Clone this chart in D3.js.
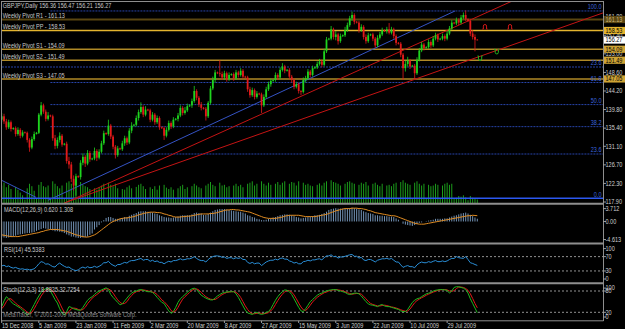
<!DOCTYPE html>
<html><head><meta charset="utf-8">
<script src="https://cdn.jsdelivr.net/npm/d3@7/dist/d3.min.js"></script>
<style>html,body{margin:0;padding:0;background:#000;overflow:hidden}svg{display:block}</style>
</head><body>
<svg id="c" width="625" height="329"></svg>
<script>
// ---------------- DATA ----------------
const symbolTitle = "GBPJPY,Daily  156.36 156.47 156.21 156.27";
const dateLabels = ["15 Dec 2008","5 Jan 2009","23 Jan 2009","11 Feb 2009","2 Mar 2009","20 Mar 2009","8 Apr 2009","27 Apr 2009","15 May 2009","3 Jun 2009","22 Jun 2009","10 Jul 2009","29 Jul 2009"];
const dateTickBars = [0,16,32,48,64,80,96,112,128,144,160,176,192];
const priceTicks = [117.90,122.30,126.70,131.10,135.40,139.80,144.20,148.60,153.00,157.40,161.80];

const opens = [
137.4,138.2,137.0,135.6,136.8,135.2,135.4,134.0,135.0,133.6,134.4,134.3,132.6,130.8,132.8,134.0,
134.3,138.6,140.8,139.3,137.6,138.4,138.2,133.0,131.2,132.6,133.6,131.5,131.7,127.6,126.8,123.4,
121.8,124.0,123.8,127.2,128.6,127.0,129.5,128.0,128.2,130.0,128.4,129.8,131.8,134.2,134.0,136.0,
133.4,131.0,129.0,130.6,130.4,131.8,133.0,132.0,134.8,136.0,136.2,137.8,139.2,140.4,138.6,139.8,
139.6,137.4,138.6,136.8,137.8,135.6,135.4,133.6,135.0,136.6,135.8,137.4,137.6,138.4,140.2,139.0,
139.6,140.6,140.8,141.8,144.2,142.6,141.0,140.2,140.0,138.2,141.4,144.8,146.8,148.6,148.4,148.2,
147.4,148.4,147.0,148.0,148.2,147.2,148.6,148.0,149.0,147.6,147.4,144.6,143.2,144.4,142.8,143.6,
143.4,140.8,142.8,144.6,145.8,146.6,146.8,148.0,147.4,149.2,150.0,149.0,149.2,147.6,146.8,145.2,
145.8,144.2,144.0,146.8,147.2,148.8,148.0,149.6,149.8,150.6,151.2,150.4,153.6,156.4,156.6,158.8,
157.0,157.6,156.0,157.2,157.4,158.6,159.8,161.4,162.2,160.6,160.4,158.6,159.4,157.0,156.0,157.4,
157.6,156.6,155.0,156.8,157.6,158.6,158.4,158.8,158.0,158.8,157.2,155.6,155.4,152.8,149.6,150.6,
151.4,150.0,150.2,148.4,151.6,153.8,155.2,154.4,154.6,155.8,155.0,156.6,157.4,156.4,156.6,157.2,
156.6,157.8,159.0,160.4,160.2,161.0,160.4,161.6,162.2,161.2,160.8,157.8,157.0,156.36];
const highs = [
139.0,138.8,137.6,137.4,137.2,135.6,135.8,135.6,135.4,134.9,134.6,134.6,133.0,133.4,134.6,134.5,
139.0,141.6,141.2,139.8,139.2,138.6,138.6,133.8,133.2,134.4,134.0,131.9,132.2,128.6,127.4,124.2,
124.6,124.2,127.8,129.4,129.0,130.2,130.0,128.4,130.8,130.4,130.4,132.4,134.8,134.4,137.4,136.4,
133.8,131.4,131.2,130.8,132.4,133.6,133.4,135.4,136.8,136.4,138.4,139.8,141.5,140.8,140.6,140.0,
140.0,139.2,139.0,138.4,138.2,135.8,135.8,135.6,137.2,137.0,138.0,137.8,139.0,140.8,140.6,140.4,
141.2,141.0,142.4,145.4,144.6,143.0,141.6,140.4,140.4,141.8,145.4,147.6,149.2,148.8,151.5,148.8,
149.0,148.8,148.6,148.4,148.6,149.2,149.0,149.6,149.4,147.8,147.8,145.2,145.0,144.8,144.2,143.8,
143.8,143.4,145.2,146.4,147.2,147.0,148.6,148.4,149.8,150.8,150.4,149.4,149.6,148.0,147.2,146.4,
146.2,144.4,147.4,147.8,149.4,149.2,150.2,150.0,151.2,151.8,151.6,154.2,157.0,156.8,159.6,159.2,
158.4,158.0,157.8,157.6,159.4,160.4,162.0,163.0,162.6,160.8,160.8,160.0,159.8,157.6,158.0,157.8,
158.0,157.0,157.4,158.2,159.2,158.8,159.4,160.3,159.4,159.2,157.6,155.8,155.8,153.2,151.4,152.3,
151.8,150.4,150.6,152.2,154.4,155.8,155.6,154.8,156.4,156.2,157.2,158.0,157.8,156.8,157.8,157.6,
158.4,159.6,161.0,160.6,161.6,161.4,162.2,162.8,163.3,161.4,161.2,158.6,157.6,156.47];
const lows = [
136.8,136.4,135.0,135.2,134.6,135.0,133.4,133.6,133.0,133.2,134.1,132.0,129.8,130.4,132.4,133.9,
134.0,138.2,138.8,137.0,137.2,138.0,132.4,130.4,130.6,132.0,131.0,131.3,127.0,125.8,122.6,120.6,
119.4,123.6,123.2,126.6,126.2,126.6,127.4,127.8,127.8,127.6,128.0,129.4,131.4,133.8,133.6,132.8,
130.4,128.2,128.6,130.2,130.0,131.2,131.4,131.6,134.2,135.8,135.8,137.2,138.8,138.0,138.2,139.4,
136.8,137.0,136.2,136.4,135.0,135.2,132.6,133.2,134.6,135.2,135.4,137.2,137.0,138.0,138.4,138.6,
139.2,140.4,140.2,141.4,142.0,140.4,139.6,139.8,137.2,137.8,141.0,144.4,146.2,148.2,147.6,146.8,
146.8,146.4,146.6,147.8,146.6,146.8,147.4,147.6,147.0,147.2,144.0,142.6,142.8,142.2,142.4,143.2,
139.0,140.4,142.4,144.2,145.2,146.4,146.4,146.8,147.0,148.8,148.4,148.8,147.0,146.2,144.6,144.8,
143.6,143.2,143.6,146.2,146.8,147.4,147.6,149.4,149.4,150.2,149.8,150.0,153.2,156.2,156.2,156.4,
156.2,155.2,155.6,157.0,157.0,158.2,159.4,160.8,160.0,160.2,158.0,158.2,156.4,155.4,155.6,157.2,
156.0,154.4,154.6,156.4,157.2,158.2,157.8,157.6,157.6,156.6,155.0,155.2,152.2,146.8,148.8,150.0,
149.4,149.8,147.0,148.0,151.2,153.4,153.8,154.2,154.2,154.4,154.6,156.2,155.8,156.2,156.2,156.0,
156.2,157.4,158.6,160.0,159.8,159.8,160.0,161.2,160.8,160.6,157.2,156.4,153.6,156.21];
const closes = [
138.2,137.0,135.6,136.8,135.2,135.4,134.0,135.0,133.6,134.4,134.3,132.6,130.8,132.8,134.0,134.3,
138.6,140.8,139.3,137.6,138.4,138.2,133.0,131.2,132.6,133.6,131.5,131.7,127.6,126.8,123.4,121.8,
124.0,123.8,127.2,128.6,127.0,129.5,128.0,128.2,130.0,128.4,129.8,131.8,134.2,134.0,136.0,133.4,
131.0,129.0,130.6,130.4,131.8,133.0,132.0,134.8,136.0,136.2,137.8,139.2,140.4,138.6,139.8,139.6,
137.4,138.6,136.8,137.8,135.6,135.4,133.6,135.0,136.6,135.8,137.4,137.6,138.4,140.2,139.0,139.6,
140.6,140.8,141.8,144.2,142.6,141.0,140.2,140.0,138.2,141.4,144.8,146.8,148.6,148.4,148.2,147.4,
148.4,147.0,148.0,148.2,147.2,148.6,148.0,149.0,147.6,147.4,144.6,143.2,144.4,142.8,143.6,143.4,
140.8,142.8,144.6,145.8,146.6,146.8,148.0,147.4,149.2,150.0,149.0,149.2,147.6,146.8,145.2,145.8,
144.2,144.0,146.8,147.2,148.8,148.0,149.6,149.8,150.6,151.2,150.4,153.6,156.4,156.6,158.8,157.0,
157.6,156.0,157.2,157.4,158.6,159.8,161.4,162.2,160.6,160.4,158.6,159.4,157.0,156.0,157.4,157.6,
156.6,155.0,156.8,157.6,158.6,158.4,158.8,158.0,158.8,157.2,155.6,155.4,152.8,149.6,150.6,151.4,
150.0,150.2,148.4,151.6,153.8,155.2,154.4,154.6,155.8,155.0,156.6,157.4,156.4,156.6,157.2,156.6,
157.8,159.0,160.4,160.2,161.0,160.4,161.6,162.2,161.2,160.8,157.8,157.0,156.36,156.27];
const volumes = [
50,58,45,52,40,12,46,38,30,22,10,42,55,48,35,12,
52,60,48,45,50,12,62,55,48,42,50,12,58,62,55,65,
68,14,60,52,48,45,40,12,42,38,45,50,55,12,58,52,
48,55,42,12,40,38,45,50,42,12,46,52,55,48,40,12,
45,40,48,38,50,12,52,44,40,45,38,12,42,48,52,40,
45,12,48,55,50,45,42,12,50,55,60,52,48,12,58,50,
52,45,48,12,50,55,48,52,45,12,55,58,62,50,55,12,
62,55,50,58,52,12,55,60,52,58,62,12,55,60,58,50,
62,12,58,52,55,50,48,12,52,56,50,58,62,12,65,60,
58,55,50,12,55,60,62,58,55,12,52,58,55,60,50,12,
55,58,52,48,55,12,50,52,48,55,58,12,60,65,58,55,
52,12,58,62,55,50,55,12,52,48,50,55,52,12,50,55,
58,52,55,12,15,20,18,22,16,8,20,15,12,10];
const macdMain = [
-3.5,-3.6,-3.7,-3.6,-3.5,-3.4,-3.2,-3.0,-2.9,-2.8,-2.7,-2.6,-2.6,-2.5,-2.4,-2.1,
-1.9,-1.7,-1.5,-1.6,-1.7,-1.8,-2.0,-2.2,-2.2,-2.3,-2.4,-2.6,-2.9,-3.1,-3.4,-3.4,
-3.6,-3.7,-3.7,-3.6,-3.5,-3.4,-3.0,-2.7,-1.8,-1.3,-0.8,-0.2,0.3,0.8,1.0,1.0,
0.8,0.6,0.6,0.6,0.8,1.0,1.0,1.3,1.5,1.7,1.9,2.2,2.3,2.3,2.3,2.2,
2.1,2.0,1.8,1.7,1.4,1.2,1.0,0.9,0.9,0.8,0.9,1.0,1.1,1.3,1.4,1.4,
1.4,1.4,1.6,1.9,2.0,1.9,1.8,1.5,1.5,1.7,2.0,2.3,2.6,2.7,2.8,2.8,
2.8,2.7,2.6,2.5,2.4,2.3,2.2,2.2,2.0,1.8,1.4,1.3,1.0,0.9,0.6,0.5,
0.3,0.3,0.4,0.6,0.7,0.9,1.0,1.2,1.4,1.5,1.6,1.6,1.5,1.4,1.2,1.0,
0.9,0.7,0.8,0.9,1.0,1.1,1.2,1.4,1.4,1.5,1.7,1.9,2.2,2.6,2.8,2.9,
3.0,2.9,2.9,2.9,2.9,3.0,3.0,3.1,3.0,2.9,2.7,2.6,2.3,2.1,1.9,1.8,
1.7,1.4,1.4,1.3,1.3,1.2,1.2,1.1,1.1,1.0,0.7,0.4,0.0,-0.5,-0.7,-0.8,
-0.9,-1.0,-0.8,-0.6,-0.3,-0.2,0.0,0.1,0.2,0.3,0.4,0.6,0.6,0.6,0.6,0.7,
0.7,0.9,1.1,1.3,1.4,1.6,1.8,1.9,2.0,1.8,1.5,1.2,0.9,0.62];
const macdSignal = [
-3.0,-3.1,-3.2,-3.3,-3.4,-3.4,-3.4,-3.4,-3.3,-3.2,-3.1,-3.0,-2.9,-2.8,-2.7,-2.6,
-2.5,-2.3,-2.2,-2.0,-1.9,-1.8,-1.8,-1.8,-1.8,-1.9,-2.0,-2.1,-2.2,-2.4,-2.6,-2.8,
-3.0,-3.1,-3.3,-3.4,-3.5,-3.5,-3.4,-3.2,-3.0,-2.7,-2.3,-1.9,-1.5,-1.1,-0.7,-0.3,
0.0,0.2,0.4,0.6,0.7,0.8,0.8,0.9,1.0,1.1,1.3,1.5,1.6,1.8,1.9,2.0,
2.1,2.1,2.1,2.0,2.0,1.9,1.7,1.6,1.4,1.3,1.1,1.0,1.0,1.0,1.1,1.1,
1.2,1.2,1.3,1.4,1.5,1.6,1.7,1.7,1.7,1.7,1.8,1.8,1.9,2.0,2.2,2.3,
2.5,2.6,2.6,2.7,2.7,2.6,2.6,2.5,2.4,2.3,2.2,2.1,1.9,1.7,1.5,1.3,
1.1,0.9,0.8,0.7,0.7,0.7,0.7,0.8,0.9,1.0,1.2,1.3,1.4,1.4,1.4,1.4,
1.4,1.3,1.2,1.1,1.1,1.1,1.1,1.1,1.2,1.3,1.4,1.5,1.6,1.8,2.0,2.2,
2.4,2.5,2.7,2.8,2.9,2.9,2.9,3.0,3.0,3.0,2.9,2.9,2.8,2.7,2.5,2.4,
2.2,2.0,1.9,1.8,1.7,1.6,1.5,1.4,1.3,1.3,1.2,1.0,0.8,0.6,0.4,0.2,
0.0,-0.2,-0.4,-0.5,-0.6,-0.6,-0.6,-0.5,-0.4,-0.3,-0.2,-0.1,0.0,0.1,0.2,0.3,
0.4,0.5,0.6,0.7,0.8,0.9,1.0,1.1,1.2,1.3,1.3,1.4,1.35,1.308];
const rsiValues = [
44,46,42,44,40,38,40,37,35,36,34,35,33,34,36,42,
50,56,54,49,50,46,42,41,48,52,47,43,40,41,36,33,
31,33,38,41,38,42,39,40,43,40,43,47,53,53,57,50,
46,43,48,48,51,54,52,57,59,59,61,63,65,60,62,62,
57,60,56,58,54,54,50,54,57,55,59,59,61,64,61,62,
64,64,66,70,65,61,59,59,55,62,67,70,72,72,71,68,
69,65,67,67,64,67,65,67,62,62,54,51,54,50,52,52,
45,50,55,58,60,60,63,61,65,66,63,63,58,56,52,54,
50,50,56,57,60,58,61,61,63,64,61,67,72,72,75,70,
71,66,69,69,71,73,75,76,71,71,66,68,61,59,62,62,
59,55,60,62,64,64,65,63,65,60,55,55,47,40,43,45,
42,42,39,47,52,55,53,53,56,54,57,59,56,56,58,56,
58,62,65,65,70,67,66,65,70,62,53,51,48,45.5];
const stochMain = [
36,52,64,58,50,44,40,36,32,26,20,12,18,30,42,55,
66,76,83,86,88,80,68,56,46,30,18,12,22,36,34,30,
28,26,26,34,44,54,60,64,70,76,80,83,86,89,84,70,
62,55,48,41,44,52,60,68,74,78,80,83,84,82,80,78,
78,76,70,62,55,48,45,34,24,17,22,34,48,58,64,70,
76,82,86,88,84,76,68,64,60,57,55,55,60,66,70,74,
76,77,78,78,78,72,62,50,38,26,18,16,14,18,20,16,
14,16,20,22,30,42,54,64,72,78,83,82,78,70,58,46,
34,24,22,30,40,50,56,62,68,72,74,78,80,82,83,84,
84,82,80,78,76,72,70,72,74,74,72,66,58,50,44,41,
40,38,36,40,42,38,36,36,34,32,30,28,24,22,22,28,
38,48,54,58,60,64,68,72,74,76,80,82,83,84,84,83,
82,74,80,90,92,92,90,88,84,74,58,45,32,18.9];
const stochSignal = [
30,38,50,58,58,52,46,40,36,31,26,20,17,20,30,42,
54,66,75,82,86,85,80,70,58,46,32,20,16,22,30,32,
31,28,26,28,34,44,52,60,65,70,75,80,83,86,86,82,
74,64,55,48,44,45,50,60,67,74,78,80,82,83,82,80,
79,77,75,70,63,55,50,43,35,25,21,24,34,46,57,64,
70,76,82,85,86,83,76,70,64,60,57,56,56,60,65,70,
73,76,77,78,78,76,71,62,50,38,28,20,16,16,17,18,
17,16,17,19,24,31,42,53,63,71,78,81,81,77,69,58,
46,35,27,25,31,40,49,56,62,67,71,75,77,80,82,83,
84,83,82,80,78,75,73,71,72,73,73,71,65,58,51,45,
42,40,38,38,39,40,39,37,35,34,32,30,27,25,23,24,
29,38,47,53,57,61,64,68,71,74,77,79,82,83,84,84,
83,80,79,81,87,91,91,90,87,82,72,59,45,32.7];

const pivotNames = ["R1","PP","S1","S2","S3"];
const pivotValues = [161.13,158.53,154.09,151.49,147.05];
const currentPrice = 156.27;

const fibLabels = ["100.0","23.6","61.8","50.0","38.2","23.6","0.0"];
const fibPrices = [163.16,149.88,146.21,140.98,135.75,129.27,118.80];
const fibStartBars = [21,-2,21,21,21,21,-2];

const trendBlue = [[[-1,123.3],[14.8,119.0]], [[20,118.3],[195.4,163.16]]];
const trendRed = [[[28.1,117.9],[221.2,165.8]], [[26.9,117.66],[259.2,162.7]]];

const fractalUp = [[208.3,159.43],[219.1,159.43]];
const fractalDown = [[206.2,151.94],[213.4,153.5]];

const macdLabel = "MACD(12,26,9) 0.620 1.308";
const rsiLabel = "RSI(14) 45.5383";
const stochLabel = "Stoch(12,3,3) 18.8825 32.7254";
const macdAxis = [3.712, 0.00, -4.613];
const rsiAxis = [100,70,30,0];
const rsiLevels = [70,30];
const stochAxis = [100,80,20,0];
const stochLevels = [80,20];
const copyright = "MetaTrader, \u00A9 2001-2009 MetaQuotes Software Corp.";

// ---------------- DRAW ----------------
const W = 625, H = 329, AXX = 603.5, K = 0.85, FS = 6.5;
const FONT = '"Liberation Sans", Arial, sans-serif';
const svg = d3.select('#c');
svg.append('rect').attr('width', W).attr('height', H).attr('fill', '#000');

const x = d3.scaleLinear().domain([0, 205]).range([1.7, 477.3]);
const yP = d3.scaleLinear().domain([117.9, 161.8]).range([202, 16.7]);
const yV = d3.scaleLinear().domain([0, 100]).range([203, 168]);
const panels = {
  main: [2, 203], macd: [205, 242.5], rsi: [245, 282], stoch: [284.5, 320]
};
const yM = d3.scaleLinear().domain([-4.613, 3.712]).range([242, 205]);
const yR = d3.scaleLinear().domain([0, 100]).range([281.7, 245.9]);
const yS = d3.scaleLinear().domain([0, 100]).range([319.4, 283.9]);

const defs = svg.append('defs');
Object.entries(panels).forEach(([k, [t, b]]) => {
  defs.append('clipPath').attr('id', 'clip-' + k)
    .append('rect').attr('x', 2).attr('y', t).attr('width', AXX - 2).attr('height', b - t);
});

function txt(g, s, xx, yy, o = {}) {
  const t = g.append('text').attr('x', xx).attr('y', yy).text(s)
    .attr('font-family', FONT).attr('font-size', o.size || FS)
    .attr('fill', o.fill || '#c8c8c8').attr('text-anchor', o.anchor || 'start');
  if (o.opacity) t.attr('opacity', o.opacity);
  const w = t.node().getComputedTextLength();
  t.attr('textLength', w * (o.k || K)).attr('lengthAdjust', 'spacingAndGlyphs');
  return t;
}

// main panel
const gm = svg.append('g').attr('clip-path', 'url(#clip-main)');

// volumes
gm.append('g').selectAll('line').data(volumes).join('line')
  .attr('x1', (d, i) => x(i)).attr('x2', (d, i) => x(i))
  .attr('y1', yV(0)).attr('y2', d => yV(d))
  .attr('stroke', '#1fae1f').attr('stroke-width', 1).attr('opacity', 0.9);

// fib lines
const fibG = gm.append('g');
fibLabels.forEach((lab, i) => {
  const solid = lab === "0.0";
  fibG.append('line')
    .attr('x1', Math.max(2, x(fibStartBars[i]))).attr('x2', AXX)
    .attr('y1', yP(fibPrices[i])).attr('y2', yP(fibPrices[i]))
    .attr('stroke', solid ? '#2c58f0' : '#2743a8')
    .attr('stroke-width', solid ? 1.6 : 1)
    .attr('stroke-dasharray', solid ? null : '2,1');
});

// pivot lines
const pivotColor = {R1: '#5a4611', PP: '#e4b52e', S1: '#b08a26', S2: '#b08a26', S3: '#b08a26'};
pivotNames.forEach((n, i) => {
  gm.append('line').attr('x1', 2).attr('x2', AXX)
    .attr('y1', yP(pivotValues[i])).attr('y2', yP(pivotValues[i]))
    .attr('stroke', pivotColor[n]).attr('stroke-width', n === 'R1' ? 2 : 1.5);
});

// trend lines
function trend(seg, color) {
  gm.append('line')
    .attr('x1', x(seg[0][0])).attr('y1', yP(seg[0][1]))
    .attr('x2', x(seg[1][0])).attr('y2', yP(seg[1][1]))
    .attr('stroke', color).attr('stroke-width', 1);
}
trendBlue.forEach(s => trend(s, '#3553c4'));
trendRed.forEach(s => trend(s, '#c41414'));

// candles
const UP = '#1ed41e', DN = '#e21a1a';
const cg = gm.append('g');
closes.forEach((c, i) => {
  const o = opens[i], col = c >= o ? UP : DN, cx = x(i);
  cg.append('line').attr('x1', cx).attr('x2', cx)
    .attr('y1', yP(highs[i])).attr('y2', yP(lows[i]))
    .attr('stroke', col).attr('stroke-width', 0.8);
  const top = yP(Math.max(o, c)), bot = yP(Math.min(o, c));
  cg.append('rect').attr('x', cx - 0.9).attr('width', 1.8)
    .attr('y', top).attr('height', Math.max(0.7, bot - top)).attr('fill', col);
});

// fractal markers
const capPath = "M-2.6,2.4H-1.6V-0.6Q-1.6,-2.2 0,-2.2Q1.6,-2.2 1.6,-0.6V2.4H2.6";
fractalUp.forEach(([b, p]) => {
  gm.append('path').attr('d', capPath).attr('transform', `translate(${x(b)},${yP(p)})`)
    .attr('fill', 'none').attr('stroke', '#d01818').attr('stroke-width', 1);
});
fractalDown.forEach(([b, p]) => {
  gm.append('path').attr('d', capPath).attr('transform', `translate(${x(b)},${yP(p)}) scale(1,-1)`)
    .attr('fill', 'none').attr('stroke', '#20b020').attr('stroke-width', 1);
});

// fib labels
fibLabels.forEach((lab, i) => {
  txt(svg, lab, 601.5, yP(fibPrices[i]) - 1.6, {anchor: 'end', fill: '#3b63dc'});
});

// texts main
txt(svg, symbolTitle, 2.7, 8);
pivotNames.forEach((n, i) => {
  txt(svg, `Weekly Pivot ${n} - ${pivotValues[i].toFixed(2)}`, 2.7, yP(pivotValues[i]) - 1.2);
});

// MACD
const gMacd = svg.append('g').attr('clip-path', 'url(#clip-macd)');
gMacd.append('g').selectAll('line').data(macdMain).join('line')
  .attr('x1', (d, i) => x(i)).attr('x2', (d, i) => x(i))
  .attr('y1', yM(0)).attr('y2', d => yM(d))
  .attr('stroke', '#7393b6').attr('stroke-width', 1);
gMacd.append('path').datum(macdSignal)
  .attr('d', d3.line().x((d, i) => x(i)).y(d => yM(d)))
  .attr('fill', 'none').attr('stroke', '#e08c22').attr('stroke-width', 1);
txt(svg, macdLabel, 4, 212.3);

// RSI
const gRsi = svg.append('g').attr('clip-path', 'url(#clip-rsi)');
rsiLevels.forEach(l => gRsi.append('line').attr('x1', 2).attr('x2', AXX)
  .attr('y1', yR(l)).attr('y2', yR(l)).attr('stroke', '#b8b8b8')
  .attr('stroke-width', 0.8).attr('stroke-dasharray', '2,2'));
gRsi.append('path').datum(rsiValues)
  .attr('d', d3.line().x((d, i) => x(i)).y(d => yR(d)))
  .attr('fill', 'none').attr('stroke', '#2a8fd8').attr('stroke-width', 1);
txt(svg, rsiLabel, 4, 252.3);

// Stoch
const gSt = svg.append('g').attr('clip-path', 'url(#clip-stoch)');
stochLevels.forEach(l => gSt.append('line').attr('x1', 2).attr('x2', AXX)
  .attr('y1', yS(l)).attr('y2', yS(l)).attr('stroke', '#b8b8b8')
  .attr('stroke-width', 0.8).attr('stroke-dasharray', '2,2'));
gSt.append('path').datum(stochSignal)
  .attr('d', d3.line().x((d, i) => x(i)).y(d => yS(d)))
  .attr('fill', 'none').attr('stroke', '#e01818').attr('stroke-width', 1);
gSt.append('path').datum(stochMain)
  .attr('d', d3.line().x((d, i) => x(i)).y(d => yS(d)))
  .attr('fill', 'none').attr('stroke', '#1fb81f').attr('stroke-width', 1);
txt(svg, stochLabel, 3.3, 291.6);
txt(svg, copyright, 3.3, 316.6, {fill: '#a8a8a8', opacity: 0.85});

// frame & separators
const frame = svg.append('g').attr('stroke', '#8e8e8e');
frame.append('line').attr('x1', 1).attr('x2', AXX).attr('y1', 1.5).attr('y2', 1.5).attr('stroke-width', 1);
frame.append('line').attr('x1', 1.5).attr('x2', 1.5).attr('y1', 1).attr('y2', 321).attr('stroke-width', 1);
[203.8, 243.6, 283.2].forEach(yy => frame.append('line').attr('x1', 1).attr('x2', AXX)
  .attr('y1', yy).attr('y2', yy).attr('stroke-width', 2));
frame.append('line').attr('x1', 1).attr('x2', AXX).attr('y1', 320.8).attr('y2', 320.8).attr('stroke-width', 1);
frame.append('line').attr('x1', AXX).attr('x2', AXX).attr('y1', 1).attr('y2', 321).attr('stroke-width', 1);

// price axis
const ax = svg.append('g');
priceTicks.forEach(p => {
  ax.append('line').attr('x1', AXX).attr('x2', AXX + 2.5).attr('y1', yP(p)).attr('y2', yP(p))
    .attr('stroke', '#c0c0c0').attr('stroke-width', 0.8);
  txt(ax, p.toFixed(2), 605.5, yP(p) + 2.3, {fill: '#d0d0d0'});
});
// boxes
const boxFill = {R1: '#5a4611', PP: '#e4b52e', S1: '#cfa435', S2: '#cfa435', S3: '#cfa435'};
const boxText = {R1: '#cdb77a', PP: '#000', S1: '#000', S2: '#000', S3: '#000'};
function box(v, fill, tf) {
  const yy = yP(v);
  ax.append('rect').attr('x', AXX + 0.5).attr('y', yy - 3.6).attr('width', W - AXX).attr('height', 7.2).attr('fill', fill);
  txt(ax, v.toFixed(2), 605.5, yy + 2.3, {fill: tf});
}
pivotNames.forEach((n, i) => box(pivotValues[i], boxFill[n], boxText[n]));
box(currentPrice, '#ffffff', '#000');

// indicator axes
function indAxis(vals, scale, [t, b], fmt) {
  vals.forEach(v => {
    const yy = Math.min(b - 3, Math.max(t + 3.6, scale(v)));
    ax.append('line').attr('x1', AXX).attr('x2', AXX + 2.5).attr('y1', yy).attr('y2', yy)
      .attr('stroke', '#c0c0c0').attr('stroke-width', 0.8);
    txt(ax, fmt(v), 605.5, yy + 2.3, {fill: '#d0d0d0'});
  });
}
indAxis(macdAxis, yM, panels.macd, v => v === 0 ? "0.00" : v.toFixed(3));
indAxis(rsiAxis, yR, panels.rsi, v => String(v));
indAxis(stochAxis, yS, panels.stoch, v => String(v));

// date axis
dateTickBars.forEach((b, i) => {
  ax.append('line').attr('x1', x(b)).attr('x2', x(b)).attr('y1', 320.8).attr('y2', 323)
    .attr('stroke', '#c0c0c0').attr('stroke-width', 0.8);
  txt(ax, dateLabels[i], x(b) + 0.3, 327.6, {fill: '#d0d0d0'});
});
</script>
</body></html>
